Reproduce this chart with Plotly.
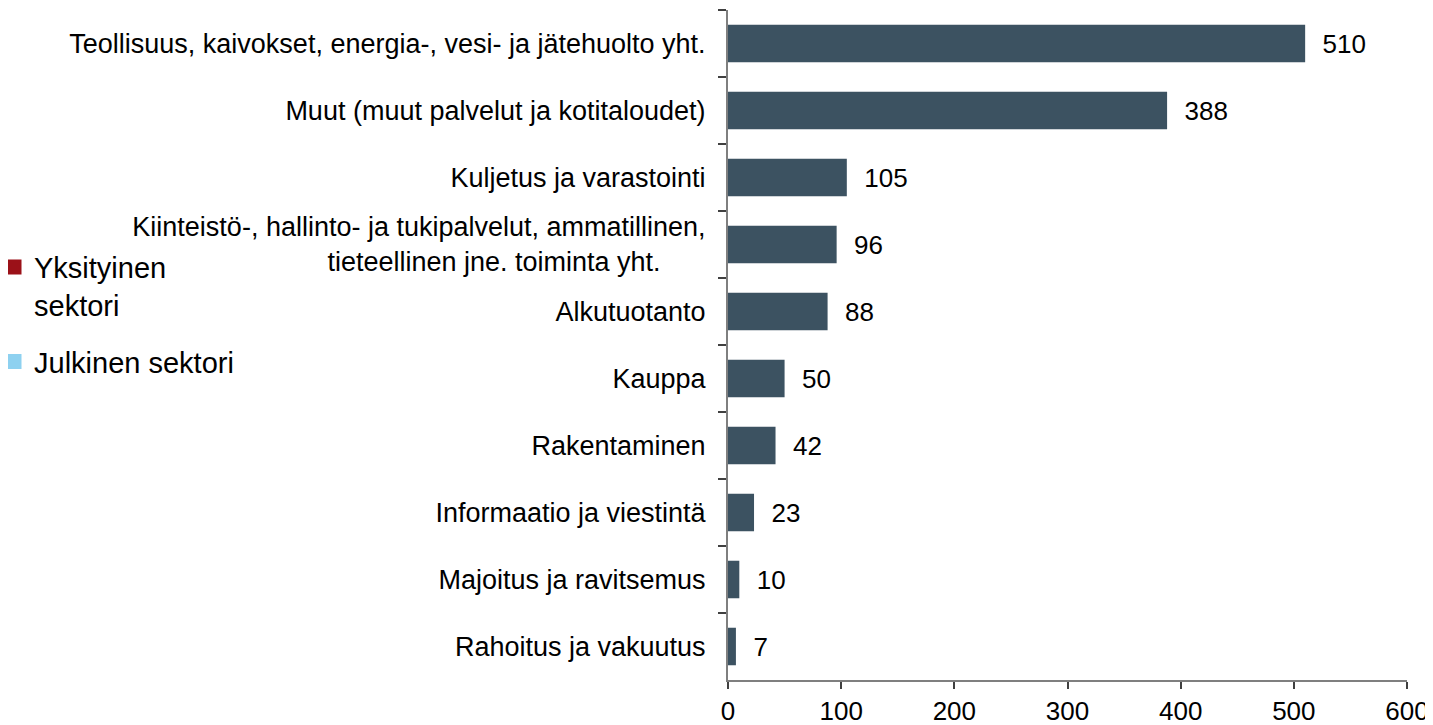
import plotly.graph_objects as go

NBSP = "\u00a0"

categories = [
    "Teollisuus, kaivokset, energia-, vesi- ja jätehuolto yht.",
    "Muut (muut palvelut ja kotitaloudet)",
    "Kuljetus ja varastointi",
    "Kiinteistö-, hallinto- ja tukipalvelut, ammatillinen,<br>tieteellinen jne. toiminta yht." + NBSP * 6,
    "Alkutuotanto",
    "Kauppa",
    "Rakentaminen",
    "Informaatio ja viestintä",
    "Majoitus ja ravitsemus",
    "Rahoitus ja vakuutus",
]
values = [510, 388, 105, 96, 88, 50, 42, 23, 10, 7]

legend_names = ["Yksityinen<br>sektori", "Julkinen sektori"]
legend_colors = ["#9B1118", "#8ED1F0"]

FONT = "Liberation Sans, Arial, sans-serif"

fig = go.Figure()
fig.add_trace(go.Bar(
    y=categories, x=values, orientation="h",
    marker=dict(color="#3C5261", line=dict(width=0)),
    text=[NBSP * 2 + str(v) for v in values],
    textposition="outside",
    textfont=dict(size=26, color="black", family=FONT),
    cliponaxis=False,
    showlegend=False,
))
for i, (name, col) in enumerate(zip(legend_names, legend_colors)):
    fig.add_trace(go.Scatter(
        x=[None], y=[None], mode="markers", name=name,
        legendgroup="g%d" % i,
        marker=dict(symbol="square", size=15, color=col),
    ))

fig.update_layout(
    width=1425, height=717,
    margin=dict(l=720, r=26, t=2, b=45, autoexpand=False),
    paper_bgcolor="white", plot_bgcolor="white",
    font=dict(family=FONT, size=26, color="black"),
    bargap=0.44,
    showlegend=True,
    legend=dict(
        xref="container", yref="container",
        x=0.0, y=0.674, xanchor="left", yanchor="top",
        font=dict(size=29, color="black", family=FONT),
        itemwidth=30, tracegroupgap=16, valign="top",
        indentation=-14,
        bgcolor="rgba(0,0,0,0)",
    ),
    xaxis=dict(
        range=[0, 600], dtick=100, tick0=0, automargin=False,
        showgrid=False, zeroline=False,
        showline=True, linecolor="#7F7F7F", linewidth=2,
        ticks="outside", ticklen=7, tickwidth=1.5, tickcolor="#404040",
        tickfont=dict(size=26, family=FONT),
        ticklabelstandoff=0,
    ),
    yaxis=dict(
        autorange="reversed", automargin=False,
        showgrid=False, zeroline=False,
        showline=True, linecolor="#7F7F7F", linewidth=2,
        ticks="outside", ticklen=8, tickwidth=1.5, tickcolor="#404040",
        tickson="boundaries",
        tickfont=dict(size=27, family=FONT),
        ticklabelstandoff=15,
    ),
)

fig.write_html("out.html")
